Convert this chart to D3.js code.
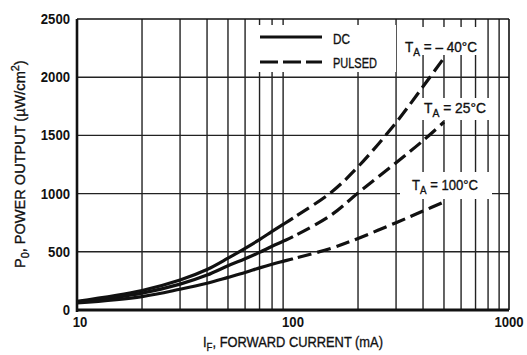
<!DOCTYPE html>
<html><head><meta charset="utf-8">
<script src="https://cdn.jsdelivr.net/npm/d3@7"></script>
<style>
body{margin:0;background:#fff}
text{font-family:"Liberation Sans",Arial,Helvetica,sans-serif;fill:#111}
text.med{stroke:#111;stroke-width:0.35px}
</style></head><body>
<svg id="c" width="527" height="355"></svg>
<script>
// ---- data ----
const currents = [10,20,30,40,50,60,70,80,90,100,150,200,300,400,500];
const tempM40  = [75,168,258,348,445,530,605,675,735,790,1010,1230,1610,1920,2165];
const temp25   = [68,145,222,300,380,440,495,548,590,630,815,1005,1265,1455,1615];
const temp100  = [60,115,178,230,280,322,362,393,418,440,530,615,750,850,928];
const seriesNames = ["– 40°C","25°C","100°C"];
const xTickValues = [10,100,1000];
const yTickValues = [0,500,1000,1500,2000,2500];
const xGridValues = [20,30,40,50,60,70,80,90,200,300,400,500,600,700,800,900];
const yGridValues = [500,1000,1500,2000];
const legendLabels = ["DC","PULSED"];
const dcLimit = 100;

const svg = d3.select("#c");
const L=77,R=509,T=19,B=310;
const x = d3.scaleLog().domain([10,1000]).range([L,R]);
const y = d3.scaleLinear().domain([0,2500]).range([B,T]);

// text helper: builds text with sub/sup parts and squeezes it horizontally to a target width
function addText(parent, tx, ty, anchor, parts, fs, weight, width, rotate){
  const g = parent.append("g");
  const inner = g.append("g");
  const t = inner.append("text").attr("font-size",fs).attr("font-weight",weight||"normal");
  if(weight!=="bold") t.attr("class","med");
  let cur = 0;
  parts.forEach(p=>{
    const [s,k] = p;
    const sp = t.append("tspan").text(s);
    let want = k==="sub"?fs*0.27:(k==="sup"?-fs*0.4:0);
    if(k==="sub"||k==="sup") sp.attr("font-size",fs*0.75);
    sp.attr("dy",want-cur); cur=want;
  });
  const w = t.node().getComputedTextLength();
  const s = width ? width/w : 1;
  const off = anchor==="middle"? -width/2 : (anchor==="end"? -width : 0);
  inner.attr("transform",`translate(${off},0) scale(${s},1)`);
  g.attr("transform",`translate(${tx},${ty})`+(rotate?` rotate(${rotate})`:""));
  return g;
}

// grid
svg.selectAll(".vg").data(xGridValues).enter().append("line")
 .attr("x1",d=>x(d)).attr("x2",d=>x(d)).attr("y1",T).attr("y2",B)
 .attr("stroke","#222").attr("stroke-width",1.4);
svg.selectAll(".hg").data(yGridValues).enter().append("line")
 .attr("x1",L).attr("x2",R).attr("y1",d=>y(d)).attr("y2",d=>y(d))
 .attr("stroke","#222").attr("stroke-width",1.4);

// white boxes behind labels
const boxes = [[255,25,396,72],[400,27,486,55],[418,98,492,120],[400,172,492,199]];
svg.selectAll(".bx").data(boxes).enter().append("rect")
 .attr("x",d=>d[0]).attr("y",d=>d[1]).attr("width",d=>d[2]-d[0]).attr("height",d=>d[3]-d[1])
 .attr("fill","#fff");

// frame
svg.append("line").attr("x1",L).attr("x2",R).attr("y1",T).attr("y2",T).attr("stroke","#111").attr("stroke-width",1.6);
svg.append("line").attr("x1",R).attr("x2",R).attr("y1",T).attr("y2",B).attr("stroke","#111").attr("stroke-width",1.6);
svg.append("line").attr("x1",L).attr("x2",R).attr("y1",B).attr("y2",B).attr("stroke","#111").attr("stroke-width",3);
svg.append("line").attr("x1",L).attr("x2",L).attr("y1",T).attr("y2",B+2).attr("stroke","#111").attr("stroke-width",2.6);

// curves: one smooth path, solid up to dcLimit then dashed
const line = d3.line().x(d=>x(d[0])).y(d=>y(d[1])).curve(d3.curveCatmullRom.alpha(0.5));
[tempM40,temp25,temp100].forEach(vals=>{
  const pts = currents.map((c,i)=>[c,vals[i]]);
  const p = svg.append("path").datum(pts).attr("d",line)
   .attr("fill","none").attr("stroke","#111").attr("stroke-width",3.2);
  const node = p.node(), tot = node.getTotalLength();
  const xs = x(dcLimit);
  let lo=0, hi=tot;
  for(let k=0;k<40;k++){ const m=(lo+hi)/2; if(node.getPointAtLength(m).x<xs) lo=m; else hi=m; }
  const arr=[lo,5];
  let acc=lo+5;
  while(acc<tot+40){ arr.push(14,6); acc+=20; }
  p.attr("stroke-dasharray",arr.join(","));
});

// axes tick labels
yTickValues.forEach(v=>{
  addText(svg,70,y(v)+5,"end",[[String(v)]],15,"bold",String(v).length*7.3);
});
xTickValues.forEach(v=>{
  addText(svg,x(v)+(v===10?3:0),327,"middle",[[String(v)]],15,"bold",String(v).length*7.3);
});

// axis titles
addText(svg,293,347,"middle",[["I"],["F","sub"],[", FORWARD CURRENT (mA)"]],15.5,"normal",180);
addText(svg,25,164,"middle",[["P"],["0","sub"],[", POWER OUTPUT (µW/cm"],["2","sup"],[")"]],15.5,"normal",208,-90);

// legend
svg.append("line").attr("x1",260).attr("x2",322).attr("y1",37).attr("y2",37).attr("stroke","#111").attr("stroke-width",3);
svg.append("line").attr("x1",260).attr("x2",322).attr("y1",62).attr("y2",62).attr("stroke","#111").attr("stroke-width",3).attr("stroke-dasharray","18,5");
addText(svg,333,44,"start",[[legendLabels[0]]],14.5,"normal",17);
addText(svg,333,68,"start",[[legendLabels[1]]],14.5,"normal",44);

// series labels
const labPos = [[405,52,72],[424,113,62],[412,190,66]];
seriesNames.forEach((s,i)=>{
  addText(svg,labPos[i][0],labPos[i][1],"start",[["T"],["A","sub"],[" = "+s]],15,"normal",labPos[i][2]);
});
</script></body></html>
